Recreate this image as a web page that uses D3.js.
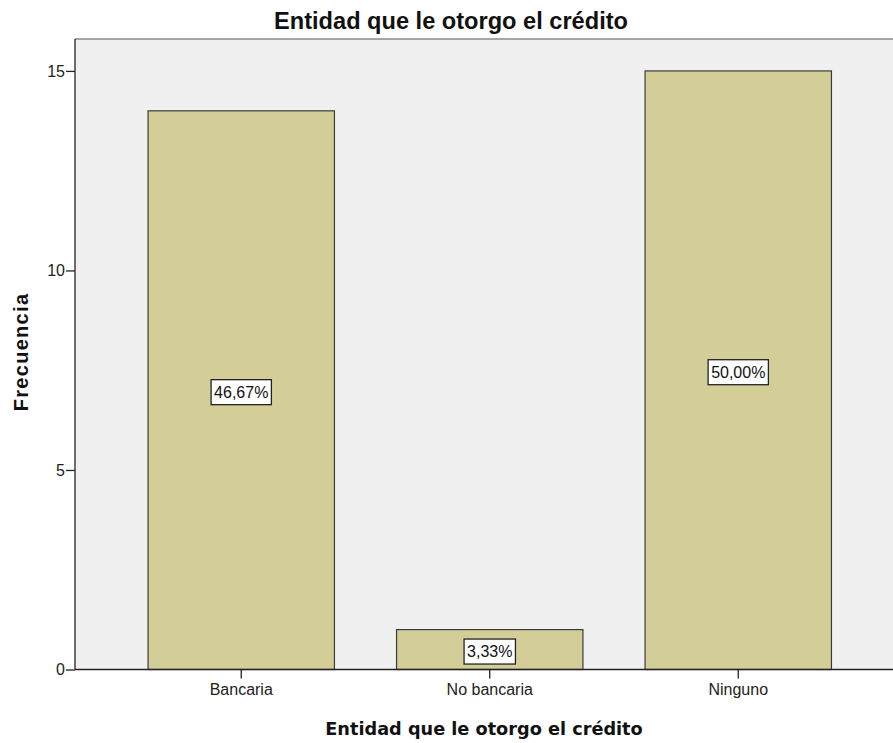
<!DOCTYPE html>
<html><head><meta charset="utf-8">
<script src="https://cdn.jsdelivr.net/npm/d3@7"></script>
<style>body{margin:0;background:#fff}svg{display:block}</style>
</head><body>
<svg id="c" width="893" height="743"></svg>
<script>
const categories = ["Bancaria", "No bancaria", "Ninguno"];
const counts = [14, 1, 15];
const percentLabels = ["46,67%", "3,33%", "50,00%"];
const yTicks = [0, 5, 10, 15];
const title = "Entidad que le otorgo el crédito";
const xTitle = "Entidad que le otorgo el crédito";
const yTitle = "Frecuencia";

const svg = d3.select("#c");
const L = 75, R = 904.5, T = 39, B = 669.5;

const x = d3.scaleBand().domain(categories).range([L, R]).paddingInner(0.25).paddingOuter(0.294);
const y = d3.scaleLinear().domain([0, 15.8]).range([B, T]);

svg.append("rect").attr("x", L).attr("y", T).attr("width", R - L).attr("height", B - T).attr("fill", "#f0f0f0");
svg.append("line").attr("x1", L).attr("x2", R).attr("y1", T).attr("y2", T).attr("stroke", "#8a8a8a").attr("stroke-width", 1.5);

const data = categories.map((c, i) => ({c, v: counts[i], p: percentLabels[i]}));

svg.selectAll("rect.bar").data(data).join("rect").attr("class", "bar")
  .attr("x", d => x(d.c)).attr("width", x.bandwidth())
  .attr("y", d => y(d.v)).attr("height", d => y(0) - y(d.v))
  .attr("fill", "#d3ce98").attr("stroke", "#3a3a3a").attr("stroke-width", 1.2);

const FONT = "Liberation Sans, Arial, sans-serif";
// axes
const yAxis = svg.append("g").attr("transform", `translate(${L},0)`)
  .call(d3.axisLeft(y).tickValues(yTicks).tickSize(9).tickPadding(1).tickFormat(d3.format("d")));
const xAxis = svg.append("g").attr("transform", `translate(0,${B})`)
  .call(d3.axisBottom(x).tickSize(9).tickPadding(5));
[yAxis, xAxis].forEach(g => {
  g.select(".domain").attr("stroke", "#222").attr("stroke-width", 1.3);
  g.selectAll(".tick line").attr("stroke", "#222").attr("stroke-width", 1.3);
  g.selectAll("text").attr("font-family", FONT).attr("font-size", 16).attr("fill", "#222");
});
xAxis.select(".domain").attr("d", `M${L},0H${R}`);
yAxis.select(".domain").attr("d", `M0,${B}V${T}`);

// labels
const lg = svg.selectAll("g.lab").data(data).join("g").attr("class", "lab")
  .attr("transform", d => `translate(${x(d.c) + x.bandwidth() / 2},${y(d.v / 2) + 2})`);
lg.each(function(d) {
  const g = d3.select(this);
  const t = g.append("text").attr("text-anchor", "middle").attr("dy", "0.36em")
    .attr("font-family", FONT).attr("font-size", 16).attr("fill", "#111").text(d.p);
  const bb = t.node().getBBox();
  g.insert("rect", "text").attr("x", bb.x - 3).attr("y", -12.5).attr("width", bb.width + 6).attr("height", 25)
    .attr("fill", "#fff").attr("stroke", "#222").attr("stroke-width", 1.3);
});

svg.append("text").attr("x", 451).attr("y", 29).attr("text-anchor", "middle")
  .attr("font-family", FONT).attr("font-weight", "bold").attr("font-size", 23.6).attr("fill", "#111").text(title);
svg.append("text").attr("x", 484).attr("y", 735).attr("text-anchor", "middle")
  .attr("font-family", "DejaVu Sans, sans-serif").attr("font-weight", "bold").attr("font-size", 17.7).attr("fill", "#111").text(xTitle);
svg.append("text").attr("transform", "translate(28,352) rotate(-90)").attr("text-anchor", "middle")
  .attr("font-family", FONT).attr("font-weight", "bold").attr("font-size", 20).attr("letter-spacing", 1.3).attr("fill", "#111").text(yTitle);
</script>
</body></html>
